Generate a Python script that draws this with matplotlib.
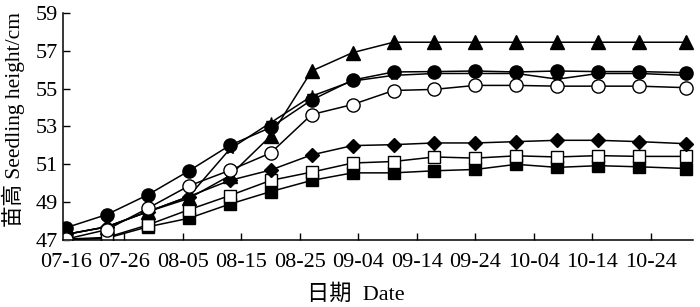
import numpy as np
import matplotlib
matplotlib.use('Agg')
import matplotlib.pyplot as plt
import datetime as dt

plt.rcParams['font.family'] = ['Liberation Serif', 'Noto Sans CJK SC']
plt.rcParams['font.size'] = 16

# days after 07-16
days = [0, 7, 14, 21, 28, 35, 42, 49, 56, 63, 70, 77, 84, 91, 98, 106]

sq_filled = [47.0, 47.1, 47.7, 48.15, 48.9, 49.56, 50.15, 50.55, 50.55, 50.66, 50.73, 51.0, 50.84, 50.93, 50.87, 50.78]
sq_open = [47.05, 47.14, 47.8, 48.6, 49.35, 50.15, 50.59, 51.07, 51.15, 51.39, 51.33, 51.45, 51.39, 51.46, 51.42, 51.42]
diamond = [47.3, 47.7, 48.5, 49.3, 50.15, 50.7, 51.5, 51.99, 52.04, 52.13, 52.13, 52.2, 52.27, 52.27, 52.2, 52.09]
triangle = [47.3, 47.7, 48.5, 49.2, 50.4, 52.5, 55.93, 56.9, 57.45, 57.45, 57.45, 57.45, 57.45, 57.45, 57.45, 57.45]
star = [47.3, 47.7, 48.5, 49.3, 51.8, 53.2, 54.6, 55.4, 55.7, 55.8, 55.8, 55.8, 55.5, 55.8, 55.8, 55.7]
circ_filled = [47.65, 48.35, 49.39, 50.65, 52.0, 52.95, 54.4, 55.45, 55.88, 55.9, 55.93, 55.88, 55.93, 55.9, 55.9, 55.84]
circ_open = [47.05, 47.55, 48.68, 49.86, 50.68, 51.6, 53.63, 54.16, 54.9, 54.96, 55.17, 55.17, 55.13, 55.13, 55.13, 55.05]

tick_days = list(range(0, 101, 10))
start = dt.date(2020, 7, 16)
tick_labels = [(start + dt.timedelta(days=d)).strftime('%m-%d') for d in tick_days]

fig = plt.figure(figsize=(7, 3.07), dpi=100)
ax = fig.add_axes([0.09, 0.218, 0.9, 0.74])

kw = dict(color='black', lw=1.1, markeredgecolor='black', markeredgewidth=1.0)
ax.plot(days, sq_filled, marker='s', ms=8, markerfacecolor='black', **kw)
ax.plot(days, sq_open, marker='s', ms=8, markerfacecolor='white', **kw)
ax.plot(days, diamond, marker='D', ms=7.5, markerfacecolor='black', **kw)
ax.plot(days, triangle, marker='^', ms=9.5, markerfacecolor='black', **kw)
ax.plot(days, star, marker='*', ms=8, markerfacecolor='black', **kw)
ax.plot(days, circ_filled, marker='o', ms=9.5, markerfacecolor='black', **kw)
ax.plot(days, circ_open, marker='o', ms=9.5, markerfacecolor='white', **kw)

ax.set_xlim(-0.5, 107.2)
ax.set_ylim(47, 59)
ax.set_yticks(range(47, 60, 2))
ax.set_xticks(tick_days)
ax.set_xticklabels(tick_labels)
ax.tick_params(direction='in', length=5, width=1)
ax.tick_params(axis='x', pad=9)
ax.tick_params(axis='y', pad=4)
ax.spines['top'].set_visible(False)
ax.spines['right'].set_visible(False)
for s in ['left', 'bottom']:
    ax.spines[s].set_linewidth(1.1)

ax.set_xlabel('日期  Date')
ax.xaxis.set_label_coords(0.465, -0.195)
ax.set_ylabel('苗高 Seedling height/cm', fontsize=15.5)
ax.yaxis.set_label_coords(-0.06, 0.53)

plt.savefig('out.png', dpi=100)
